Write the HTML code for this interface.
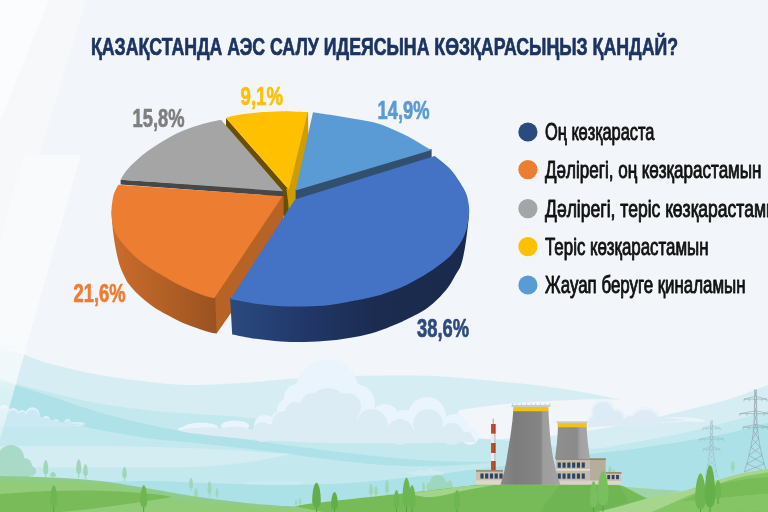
<!DOCTYPE html>
<html lang="kk"><head><meta charset="utf-8"><title>Chart</title>
<style>
html,body{margin:0;padding:0;background:#f2f5f9;}
body{width:768px;height:512px;overflow:hidden;font-family:"Liberation Sans",sans-serif;}
svg{display:block;will-change:transform;}
svg text{font-family:"Liberation Sans",sans-serif;}
</style></head><body>
<svg width="768" height="512" viewBox="0 0 768 512">
<defs>
<linearGradient id="gOr" gradientUnits="userSpaceOnUse" x1="111" y1="0" x2="217" y2="0"><stop offset="0" stop-color="#cc6c2b"/><stop offset="0.45" stop-color="#b56226"/><stop offset="1" stop-color="#9a5220"/></linearGradient>
<linearGradient id="gBl" gradientUnits="userSpaceOnUse" x1="230" y1="0" x2="470" y2="0"><stop offset="0" stop-color="#2b4a80"/><stop offset="0.3" stop-color="#22386a"/><stop offset="0.6" stop-color="#1b2c50"/><stop offset="1" stop-color="#1a2a4c"/></linearGradient>
<linearGradient id="gRay" gradientUnits="userSpaceOnUse" x1="0" y1="345" x2="0" y2="445"><stop offset="0" stop-color="#f6f9fb" stop-opacity="0.9"/><stop offset="0.35" stop-color="#ffffff" stop-opacity="0.6"/><stop offset="1" stop-color="#ffffff" stop-opacity="0.3"/></linearGradient>
<linearGradient id="gT1" gradientUnits="userSpaceOnUse" x1="500" y1="0" x2="560" y2="0"><stop offset="0" stop-color="#8a8a8a"/><stop offset="0.25" stop-color="#7c7c7c"/><stop offset="0.68" stop-color="#858585"/><stop offset="0.72" stop-color="#9d9d9d"/><stop offset="1" stop-color="#a3a3a3"/></linearGradient>
<linearGradient id="gT2" gradientUnits="userSpaceOnUse" x1="555" y1="0" x2="591" y2="0"><stop offset="0" stop-color="#8f8f8f"/><stop offset="0.6" stop-color="#8a8a8a"/><stop offset="0.7" stop-color="#a2a2a2"/><stop offset="1" stop-color="#a8a8a8"/></linearGradient>
</defs>
<rect width="768" height="512" fill="#f2f5f9"/>
<!--BG-->
<path d="M0 0L86 0L39 156L23.6 156L0 240Z" fill="#f6f8fa"/>
<path d="M23.6 155L80.7 155L0 440L0 240Z" fill="#f9fafc"/>
<path d="M0 0L49 0L0 121Z" fill="#fbfcfd"/>
<path d="M0.0 348.0C3.8 349.1 14.7 351.9 23.0 354.5C31.3 357.1 37.2 360.3 50.0 363.8C62.8 367.2 83.3 372.0 100.0 375.0C116.7 378.0 134.7 380.3 150.0 382.0C165.3 383.7 176.7 384.8 192.0 385.0C207.3 385.2 225.3 384.0 242.0 383.0C258.7 382.0 275.7 379.8 292.0 378.8C308.3 377.7 324.7 377.0 340.0 376.5C355.3 376.0 368.3 375.6 384.0 375.5C399.7 375.4 417.3 375.2 434.0 376.0C450.7 376.8 467.3 378.5 484.0 380.0C500.7 381.5 518.7 383.2 534.0 385.0C549.3 386.8 561.7 388.6 576.0 391.0C590.3 393.4 612.7 398.1 620.0 399.5C612.7 399.5 594.5 399.0 576.0 399.7C557.5 400.4 528.5 402.0 509.0 403.8C489.5 405.5 467.3 409.0 459.0 410.0C458.3 413.0 453.2 423.0 455.0 428.0C456.8 433.0 462.5 438.2 470.0 440.0C477.5 441.8 486.7 439.7 500.0 439.0C513.3 438.3 535.7 437.3 550.0 436.0C564.3 434.7 574.2 432.8 586.0 431.0C597.8 429.2 608.3 427.5 621.0 425.0C633.7 422.5 644.5 420.2 662.0 416.0C679.5 411.8 708.3 405.2 726.0 400.0C743.7 394.8 761.0 387.5 768.0 385.0L768.0 512.0L0.0 512.0Z" fill="#d6eef3"/>
<path d="M0.0 379.0C2.5 379.8 6.7 381.5 15.0 383.8C23.3 386.0 35.8 389.2 50.0 392.5C64.2 395.8 83.3 400.8 100.0 403.8C116.7 406.8 134.7 408.8 150.0 410.5C165.3 412.2 175.3 412.5 192.0 413.8C208.7 415.0 232.0 416.0 250.0 418.0C268.0 420.0 285.0 423.0 300.0 426.0C315.0 429.0 326.0 433.2 340.0 436.0C354.0 438.8 368.3 441.8 384.0 442.5C399.7 443.2 417.3 440.6 434.0 440.0C450.7 439.4 466.3 437.9 484.0 438.8C501.7 439.6 522.2 443.3 540.0 445.0C557.8 446.7 576.7 449.0 591.0 448.8C605.3 448.5 611.8 446.1 626.0 443.8C640.2 441.4 659.3 438.0 676.0 434.5C692.7 431.0 710.7 426.4 726.0 422.5C741.3 418.6 761.0 412.9 768.0 411.0L768.0 512.0L0.0 512.0Z" fill="#c3e8ee"/>
<path d="M0.0 381.0C2.5 381.7 6.7 382.5 15.0 385.0C23.3 387.5 35.8 391.4 50.0 396.0C64.2 400.6 83.3 407.7 100.0 412.5C116.7 417.3 134.7 421.7 150.0 425.0C165.3 428.3 175.3 430.0 192.0 432.5C208.7 435.0 232.0 437.6 250.0 440.0C268.0 442.4 277.7 444.2 300.0 447.0C322.3 449.8 360.7 454.7 384.0 457.0C407.3 459.3 420.7 460.2 440.0 461.0C459.3 461.8 490.0 461.8 500.0 462.0L500.0 462.0C490.0 462.7 459.3 465.5 440.0 466.0C420.7 466.5 402.3 466.1 384.0 465.0C365.7 463.9 345.3 461.2 330.0 459.5C314.7 457.8 305.3 456.2 292.0 454.5C278.7 452.8 266.7 451.0 250.0 449.0C233.3 447.0 208.7 444.2 192.0 442.5C175.3 440.8 165.3 440.6 150.0 438.5C134.7 436.4 111.3 432.1 100.0 430.0C88.7 427.9 88.7 427.3 82.0 426.0C75.3 424.7 68.7 423.8 60.0 422.0C51.3 420.2 40.0 417.8 30.0 415.0C20.0 412.2 5.0 406.7 0.0 405.0Z" fill="#afe2e8"/>
<path d="M0.0 446.0C16.7 446.0 71.7 445.8 100.0 446.0C128.3 446.2 148.3 446.8 170.0 447.5C191.7 448.2 209.7 448.9 230.0 450.0C250.3 451.1 281.7 453.3 292.0 454.0L292.0 454.0C287.0 455.0 271.8 458.3 262.0 460.0C252.2 461.7 245.0 462.8 233.0 464.0C221.0 465.2 212.2 466.4 190.0 467.0C167.8 467.6 131.7 467.4 100.0 467.5C68.3 467.6 16.7 467.5 0.0 467.5Z" fill="#d3edf2"/>
<path d="M90.0 482.0C100.0 481.8 133.0 480.9 150.0 481.0C167.0 481.1 173.7 481.9 192.0 482.5C210.3 483.1 237.0 484.2 260.0 484.5C283.0 484.8 309.3 484.8 330.0 484.0C350.7 483.2 365.7 481.7 384.0 480.0C402.3 478.3 425.7 475.7 440.0 474.0C454.3 472.3 453.3 472.0 470.0 470.0C486.7 468.0 519.8 464.7 540.0 462.0C560.2 459.3 576.7 455.8 591.0 453.8C605.3 451.8 611.8 451.9 626.0 450.0C640.2 448.1 659.3 445.2 676.0 442.5C692.7 439.8 710.7 437.1 726.0 433.8C741.3 430.4 761.0 424.4 768.0 422.5L768.0 512.0L90.0 512.0Z" fill="#ade1e8"/>
<g fill="#eaf4fc">
<circle cx="327.0" cy="392.0" r="32.0" fill="#eaf4fc"/>
<circle cx="298.0" cy="398.0" r="14.0" fill="#eaf4fc"/>
<circle cx="288.0" cy="410.0" r="11.0" fill="#eaf4fc"/>
<circle cx="280.0" cy="420.0" r="9.0" fill="#eaf4fc"/>
<circle cx="265.0" cy="426.0" r="11.0" fill="#eaf4fc"/>
<circle cx="355.0" cy="404.0" r="20.0" fill="#eaf4fc"/>
<circle cx="385.0" cy="418.0" r="14.0" fill="#eaf4fc"/>
<circle cx="427.0" cy="416.0" r="19.0" fill="#eaf4fc"/>
<circle cx="404.0" cy="424.0" r="14.0" fill="#eaf4fc"/>
<circle cx="455.0" cy="428.0" r="14.0" fill="#eaf4fc"/>
<circle cx="470.0" cy="436.0" r="9.0" fill="#eaf4fc"/>
<ellipse cx="235.0" cy="426.0" rx="14.0" ry="5.5" fill="#eaf4fc"/>
<ellipse cx="201.0" cy="427.0" rx="17.0" ry="4.2" fill="#eaf4fc"/>
<ellipse cx="188.0" cy="429.0" rx="10.0" ry="2.5" fill="#eaf4fc"/>
</g>
<g fill="#dbecf5">
<circle cx="328.0" cy="408.0" r="20.0" fill="#dbecf5"/>
<circle cx="306.0" cy="420.0" r="12.0" fill="#dbecf5"/>
<circle cx="320.0" cy="425.0" r="14.0" fill="#dbecf5"/>
<circle cx="345.0" cy="425.0" r="14.0" fill="#dbecf5"/>
<circle cx="347.0" cy="407.0" r="14.0" fill="#dbecf5"/>
<circle cx="312.0" cy="404.0" r="11.0" fill="#dbecf5"/>
<circle cx="296.0" cy="413.0" r="11.0" fill="#dbecf5"/>
<circle cx="284.0" cy="423.0" r="12.0" fill="#dbecf5"/>
<circle cx="262.0" cy="432.0" r="10.0" fill="#dbecf5"/>
<circle cx="372.0" cy="425.0" r="16.0" fill="#dbecf5"/>
<circle cx="400.0" cy="432.0" r="13.0" fill="#dbecf5"/>
<circle cx="428.0" cy="424.0" r="15.0" fill="#dbecf5"/>
<circle cx="452.0" cy="434.0" r="11.0" fill="#dbecf5"/>
<path d="M178 430Q200 426 222 428Q240 424 252 430L262 424L470 432L476 442Q400 444 330 443Q250 441 200 434Q185 433 178 430Z" fill="#dbecf5"/>
</g>
<g fill="#def0f8">
<circle cx="32.5" cy="414.5" r="7.2" fill="#def0f8"/>
<circle cx="13.0" cy="413.5" r="5.6" fill="#def0f8"/>
<circle cx="22.0" cy="415.0" r="5.0" fill="#def0f8"/>
<circle cx="46.0" cy="420.0" r="3.9" fill="#def0f8"/>
<circle cx="56.0" cy="422.0" r="2.8" fill="#def0f8"/>
<circle cx="67.5" cy="422.0" r="3.0" fill="#def0f8"/>
<ellipse cx="76.0" cy="424.0" rx="9.0" ry="2.0" fill="#def0f8"/>
<circle cx="4.0" cy="410.0" r="5.0" fill="#def0f8"/>
</g>
<g fill="#cbe9f3">
<circle cx="32.5" cy="416.0" r="6.2" fill="#cbe9f3"/>
<circle cx="13.0" cy="415.0" r="4.8" fill="#cbe9f3"/>
<circle cx="22.0" cy="417.0" r="5.0" fill="#cbe9f3"/>
<circle cx="46.0" cy="421.3" r="3.2" fill="#cbe9f3"/>
<circle cx="67.5" cy="423.0" r="2.3" fill="#cbe9f3"/>
<circle cx="4.0" cy="412.0" r="4.6" fill="#cbe9f3"/>
<path d="M0 414L40 417L60 422L84 424.3L70 426.5L0 426.5Z" fill="#cbe9f3"/>
</g>
<g>
<circle cx="603.0" cy="411.0" r="12.3" fill="#e9f3fb"/>
<circle cx="617.0" cy="416.0" r="8.0" fill="#e9f3fb"/>
<ellipse cx="645.5" cy="417.0" rx="14.0" ry="10.0" fill="#e9f3fb"/>
<circle cx="630.0" cy="420.0" r="6.0" fill="#e9f3fb"/>
<circle cx="592.0" cy="420.0" r="5.0" fill="#e9f3fb"/>
<path d="M588 424Q640 415 690 417.5Q700 418 706.5 421Q702 422.5 690 421.5Q640 423 588 428.5Z" fill="#e9f3fb"/>
<circle cx="603.0" cy="412.5" r="10.6" fill="#dcebf6"/>
<circle cx="616.5" cy="417.0" r="6.6" fill="#dcebf6"/>
<ellipse cx="645.5" cy="418.5" rx="12.2" ry="8.4" fill="#dcebf6"/>
<circle cx="630.0" cy="421.0" r="5.0" fill="#dcebf6"/>
<circle cx="593.0" cy="421.0" r="3.8" fill="#dcebf6"/>
<path d="M590 419L662 417L686 420L640 424.5L588 427Z" fill="#dcebf6"/>
</g>
<ellipse cx="274.0" cy="483.0" rx="31.0" ry="1.7" fill="#cbeaf1"/>
<ellipse cx="426.0" cy="473.0" rx="18.0" ry="2.5" fill="#cfeaf2"/>
<circle cx="430.0" cy="471.0" r="3.0" fill="#cfeaf2"/>
<circle cx="420.0" cy="472.0" r="2.5" fill="#cfeaf2"/>
<g fill="#a5d7c3">
<circle cx="11.0" cy="458.0" r="13.0" fill="#a9d9c7"/>
<circle cx="24.0" cy="466.0" r="8.0" fill="#a9d9c7"/>
<circle cx="31.0" cy="471.0" r="5.0" fill="#a9d9c7"/>
<circle cx="2.0" cy="466.0" r="8.0" fill="#a9d9c7"/>
<rect x="0" y="462" width="30" height="16" fill="#a9d9c7"/>
</g>
<g>
<rect x="45.2" y="468.6" width="1.0" height="9.4" fill="#9fd6b7"/>
<path d="M45.8 460.0C47.5 460.6 48.2 466.5 48.2 470.4C48.2 473.4 47.0 474.4 45.8 474.4C44.5 474.4 43.2 473.4 43.2 470.4C43.2 466.5 44.0 460.6 45.8 460.0Z" fill="#9fd6b7"/>
</g>
<g>
<rect x="78.2" y="468.1" width="1.0" height="9.9" fill="#9fd6b7"/>
<path d="M78.8 459.0C80.5 459.6 81.2 465.8 81.2 469.9C81.2 473.1 80.0 474.2 78.8 474.2C77.5 474.2 76.2 473.1 76.2 469.9C76.2 465.8 77.0 459.6 78.8 459.0Z" fill="#9fd6b7"/>
</g>
<g>
<rect x="85.0" y="471.2" width="1.0" height="7.8" fill="#9fd6b7"/>
<path d="M85.5 464.0C87.0 464.5 87.8 469.4 87.8 472.6C87.8 475.2 86.6 476.0 85.5 476.0C84.4 476.0 83.2 475.2 83.2 472.6C83.2 469.4 84.0 464.5 85.5 464.0Z" fill="#9fd6b7"/>
</g>
<g>
<rect x="124.0" y="473.7" width="1.0" height="7.3" fill="#9fd6b7"/>
<path d="M124.5 467.0C126.0 467.4 126.8 472.0 126.8 475.1C126.8 477.4 125.6 478.2 124.5 478.2C123.4 478.2 122.2 477.4 122.2 475.1C122.2 472.0 123.0 467.4 124.5 467.0Z" fill="#9fd6b7"/>
</g>
<g>
<rect x="190.5" y="484.2" width="1.0" height="6.8" fill="#9fd6b7"/>
<path d="M191.0 478.0C192.4 478.4 193.0 482.7 193.0 485.5C193.0 487.7 192.0 488.4 191.0 488.4C190.0 488.4 189.0 487.7 189.0 485.5C189.0 482.7 189.6 478.4 191.0 478.0Z" fill="#9fd6b7"/>
</g>
<g>
<rect x="52.5" y="474.9" width="1.0" height="3.1" fill="#9fd6b7"/>
<path d="M53.0 472.0C55.0 472.2 56.0 474.2 56.0 475.5C56.0 476.5 54.5 476.8 53.0 476.8C51.5 476.8 50.0 476.5 50.0 475.5C50.0 474.2 51.0 472.2 53.0 472.0Z" fill="#9fd6b7"/>
</g>
<g>
<rect x="195.5" y="493.8" width="1.0" height="6.2" fill="#9fd6b7"/>
<path d="M196.0 488.0C197.2 488.4 197.8 492.3 197.8 494.9C197.8 496.9 196.9 497.6 196.0 497.6C195.1 497.6 194.2 496.9 194.2 494.9C194.2 492.3 194.8 488.4 196.0 488.0Z" fill="#9fd6b7"/>
</g>
<g>
<rect x="209.0" y="488.7" width="1.0" height="8.3" fill="#9fd6b7"/>
<path d="M209.5 481.0C210.9 481.5 211.5 486.8 211.5 490.2C211.5 492.9 210.5 493.8 209.5 493.8C208.5 493.8 207.5 492.9 207.5 490.2C207.5 486.8 208.1 481.5 209.5 481.0Z" fill="#9fd6b7"/>
</g>
<g>
<rect x="216.5" y="492.8" width="1.0" height="5.2" fill="#9fd6b7"/>
<path d="M217.0 488.0C218.0 488.3 218.5 491.6 218.5 493.8C218.5 495.4 217.8 496.0 217.0 496.0C216.2 496.0 215.5 495.4 215.5 493.8C215.5 491.6 216.0 488.3 217.0 488.0Z" fill="#9fd6b7"/>
</g>
<g>
<rect x="370.5" y="490.2" width="1.0" height="6.8" fill="#9fd6b7"/>
<path d="M371.0 484.0C372.4 484.4 373.0 488.7 373.0 491.5C373.0 493.7 372.0 494.4 371.0 494.4C370.0 494.4 369.0 493.7 369.0 491.5C369.0 488.7 369.6 484.4 371.0 484.0Z" fill="#9fd6b7"/>
</g>
<g>
<rect x="375.5" y="491.3" width="1.0" height="5.7" fill="#9fd6b7"/>
<path d="M376.0 486.0C377.2 486.4 377.8 490.0 377.8 492.3C377.8 494.2 376.9 494.8 376.0 494.8C375.1 494.8 374.2 494.2 374.2 492.3C374.2 490.0 374.8 486.4 376.0 486.0Z" fill="#9fd6b7"/>
</g>
<g>
<rect x="295.5" y="502.9" width="1.0" height="3.1" fill="#9fd6b7"/>
<path d="M296.0 500.0C296.9 500.2 297.2 502.2 297.2 503.5C297.2 504.5 296.6 504.8 296.0 504.8C295.4 504.8 294.8 504.5 294.8 503.5C294.8 502.2 295.1 500.2 296.0 500.0Z" fill="#9fd6b7"/>
</g>
<g>
<rect x="299.5" y="501.8" width="1.0" height="4.2" fill="#9fd6b7"/>
<path d="M300.0 498.0C300.9 498.3 301.2 500.9 301.2 502.6C301.2 504.0 300.6 504.4 300.0 504.4C299.4 504.4 298.8 504.0 298.8 502.6C298.8 500.9 299.1 498.3 300.0 498.0Z" fill="#9fd6b7"/>
</g>
<g>
<rect x="386.5" y="487.7" width="1.0" height="8.3" fill="#9fd6b7"/>
<path d="M387.0 480.0C388.4 480.5 389.0 485.8 389.0 489.2C389.0 491.9 388.0 492.8 387.0 492.8C386.0 492.8 385.0 491.9 385.0 489.2C385.0 485.8 385.6 480.5 387.0 480.0Z" fill="#9fd6b7"/>
</g>
<g>
<rect x="423.0" y="487.3" width="1.0" height="5.7" fill="#9fd6b7"/>
<path d="M423.5 482.0C424.5 482.4 425.0 486.0 425.0 488.3C425.0 490.2 424.2 490.8 423.5 490.8C422.8 490.8 422.0 490.2 422.0 488.3C422.0 486.0 422.5 482.4 423.5 482.0Z" fill="#9fd6b7"/>
</g>
<g>
<rect x="449.5" y="485.3" width="1.0" height="5.7" fill="#9fd6b7"/>
<path d="M450.0 480.0C451.7 480.4 452.5 484.0 452.5 486.3C452.5 488.2 451.2 488.8 450.0 488.8C448.8 488.8 447.5 488.2 447.5 486.3C447.5 484.0 448.3 480.4 450.0 480.0Z" fill="#9fd6b7"/>
</g>
<g>
<rect x="732.2" y="466.8" width="1.0" height="6.2" fill="#9fd6b7"/>
<path d="M732.8 461.0C734.1 461.4 734.8 465.3 734.8 467.9C734.8 469.9 733.8 470.6 732.8 470.6C731.8 470.6 730.8 469.9 730.8 467.9C730.8 465.3 731.4 461.4 732.8 461.0Z" fill="#9fd6b7"/>
</g>
<circle cx="438.0" cy="483.0" r="8.0" fill="#9fd6c0"/>
<circle cx="446.0" cy="487.0" r="5.0" fill="#9fd6c0"/>
<circle cx="431.0" cy="487.0" r="5.0" fill="#9fd6c0"/>
<g>
<rect x="609.5" y="471.8" width="1.0" height="6.2" fill="#9fd6b7"/>
<path d="M610.0 466.0C611.4 466.4 612.0 470.3 612.0 472.9C612.0 474.9 611.0 475.6 610.0 475.6C609.0 475.6 608.0 474.9 608.0 472.9C608.0 470.3 608.6 466.4 610.0 466.0Z" fill="#9fd6b7"/>
</g>
<g>
<rect x="613.5" y="473.3" width="1.0" height="4.7" fill="#9fd6b7"/>
<path d="M614.0 469.0C615.0 469.3 615.5 472.2 615.5 474.2C615.5 475.7 614.8 476.2 614.0 476.2C613.2 476.2 612.5 475.7 612.5 474.2C612.5 472.2 613.0 469.3 614.0 469.0Z" fill="#9fd6b7"/>
</g>
<g>
<rect x="618.5" y="474.9" width="1.0" height="3.1" fill="#9fd6b7"/>
<path d="M619.0 472.0C619.9 472.2 620.2 474.2 620.2 475.5C620.2 476.5 619.6 476.8 619.0 476.8C618.4 476.8 617.8 476.5 617.8 475.5C617.8 474.2 618.1 472.2 619.0 472.0Z" fill="#9fd6b7"/>
</g>
<path d="M702.8 428.2L711.5 425.4L720.2 428.2M702.8 428.2L720.2 428.2M702.8 428.2L702.8 430.6M720.2 428.2L720.2 430.6M706.7 428.2L706.7 430.2M716.3 428.2L716.3 430.2M699.5 439.2L711.5 436.4L723.5 439.2M699.5 439.2L723.5 439.2M699.5 439.2L699.5 441.6M723.5 439.2L723.5 441.6M704.9 439.2L704.9 441.2M718.1 439.2L718.1 441.2M703.0 449.2L711.5 446.4L720.0 449.2M703.0 449.2L720.0 449.2M703.0 449.2L703.0 451.6M720.0 449.2L720.0 451.6M706.8 449.2L706.8 451.2M716.2 449.2L716.2 451.2M710.6 420.5L712.5 426.1M712.4 420.5L710.5 426.1M710.5 426.1L712.6 431.8M712.5 426.1L710.4 431.8M710.4 431.8L712.8 437.4M712.6 431.8L710.2 437.4M710.2 437.4L712.9 443.1M712.8 437.4L710.1 443.1M710.1 443.1L713.3 448.8M712.9 443.1L709.7 448.8M709.7 448.8L713.9 454.4M713.3 448.8L709.1 454.4M709.1 454.4L714.6 460.1M713.9 454.4L708.4 460.1M708.4 460.1L715.5 465.7M714.6 460.1L707.5 465.7M707.5 465.7L716.5 471.4M715.5 465.7L706.5 471.4M706.5 471.4L717.7 477.0M716.5 471.4L705.3 477.0M710.6 420.5C710.6 421.4 710.5 424.3 710.5 426.1C710.4 428.0 710.4 429.9 710.4 431.8C710.3 433.7 710.3 435.6 710.2 437.4C710.2 439.3 710.2 441.2 710.1 443.1C710.0 445.0 709.9 446.9 709.7 448.8C709.6 450.6 709.4 452.5 709.1 454.4C708.9 456.3 708.7 458.2 708.4 460.1C708.1 461.9 707.8 463.8 707.5 465.7C707.2 467.6 706.9 469.5 706.5 471.4C706.1 473.2 705.5 476.1 705.3 477.0M712.4 420.5C712.4 421.4 712.5 424.3 712.5 426.1C712.6 428.0 712.6 429.9 712.6 431.8C712.7 433.7 712.7 435.6 712.8 437.4C712.8 439.3 712.8 441.2 712.9 443.1C713.0 445.0 713.1 446.9 713.3 448.8C713.4 450.6 713.6 452.5 713.9 454.4C714.1 456.3 714.3 458.2 714.6 460.1C714.9 461.9 715.2 463.8 715.5 465.7C715.8 467.6 716.1 469.5 716.5 471.4C716.9 473.2 717.5 476.1 717.7 477.0" fill="none" stroke="#8fa9b5" stroke-width="0.60" opacity="0.55"/>
<path d="M744.0 399.2L755.5 396.4L767.0 399.2M744.0 399.2L767.0 399.2M744.0 399.2L744.0 401.6M767.0 399.2L767.0 401.6M749.2 399.2L749.2 401.2M761.8 399.2L761.8 401.2M739.8 413.7L755.5 410.9L771.2 413.7M739.8 413.7L771.2 413.7M739.8 413.7L739.8 416.1M771.2 413.7L771.2 416.1M746.8 413.7L746.8 415.7M764.2 413.7L764.2 415.7M743.0 427.2L755.5 424.4L768.0 427.2M743.0 427.2L768.0 427.2M743.0 427.2L743.0 429.6M768.0 427.2L768.0 429.6M748.6 427.2L748.6 429.2M762.4 427.2L762.4 429.2M754.6 389.5L756.5 397.8M756.4 389.5L754.5 397.8M754.5 397.8L756.6 406.0M756.5 397.8L754.4 406.0M754.4 406.0L756.8 414.2M756.6 406.0L754.2 414.2M754.2 414.2L757.0 422.5M756.8 414.2L754.0 422.5M754.0 422.5L757.6 430.8M757.0 422.5L753.4 430.8M753.4 430.8L758.7 439.0M757.6 430.8L752.3 439.0M752.3 439.0L760.2 447.2M758.7 439.0L750.8 447.2M750.8 447.2L762.1 455.5M760.2 447.2L748.9 455.5M748.9 455.5L764.2 463.8M762.1 455.5L746.8 463.8M746.8 463.8L766.7 472.0M764.2 463.8L744.3 472.0M754.6 389.5C754.6 390.9 754.5 395.0 754.5 397.8C754.4 400.5 754.4 403.2 754.4 406.0C754.3 408.8 754.3 411.5 754.2 414.2C754.2 417.0 754.2 419.8 754.0 422.5C753.9 425.2 753.6 428.0 753.4 430.8C753.1 433.5 752.7 436.2 752.3 439.0C751.8 441.8 751.3 444.5 750.8 447.2C750.2 450.0 749.6 452.8 748.9 455.5C748.3 458.2 747.6 461.0 746.8 463.8C746.0 466.5 744.7 470.6 744.3 472.0M756.4 389.5C756.4 390.9 756.5 395.0 756.5 397.8C756.6 400.5 756.6 403.2 756.6 406.0C756.7 408.8 756.7 411.5 756.8 414.2C756.8 417.0 756.8 419.8 757.0 422.5C757.1 425.2 757.4 428.0 757.6 430.8C757.9 433.5 758.3 436.2 758.7 439.0C759.2 441.8 759.7 444.5 760.2 447.2C760.8 450.0 761.4 452.8 762.1 455.5C762.7 458.2 763.4 461.0 764.2 463.8C765.0 466.5 766.3 470.6 766.7 472.0" fill="none" stroke="#8a9ba5" stroke-width="0.75" opacity="0.70"/>
<path d="M0.0 476.0C8.3 476.2 33.3 476.7 50.0 477.5C66.7 478.3 83.3 479.1 100.0 481.0C116.7 482.9 134.7 486.2 150.0 488.8C165.3 491.2 176.7 493.7 192.0 496.0C207.3 498.3 226.2 500.8 242.0 502.5C257.8 504.2 275.7 505.3 287.0 506.0C298.3 506.7 302.5 506.2 310.0 506.5C317.5 506.8 328.3 507.8 332.0 508.0L332.0 512.0L0.0 512.0Z" fill="#8fcc8c"/>
<path d="M0.0 481.0C8.3 481.1 33.3 481.0 50.0 481.5C66.7 482.0 83.3 481.7 100.0 483.8C116.7 485.8 134.7 490.9 150.0 493.8C165.3 496.6 176.7 499.0 192.0 501.0C207.3 503.0 226.2 504.8 242.0 506.0C257.8 507.2 272.3 507.8 287.0 508.5C301.7 509.2 322.8 509.8 330.0 510.0L330.0 512.0L0.0 512.0Z" fill="#93cc78"/>
<path d="M0.0 494.0C8.3 493.5 33.3 491.5 50.0 491.0C66.7 490.5 83.3 490.3 100.0 490.8C116.7 491.2 137.9 492.7 150.0 493.8C162.1 494.8 168.8 496.5 172.5 497.0L172.5 497.0C163.8 498.3 138.8 502.5 120.0 505.0C101.2 507.5 80.0 510.8 60.0 512.0C40.0 513.2 10.0 512.0 0.0 512.0Z" fill="#78bb58"/>
<path d="M600.0 484.0C606.4 484.7 625.0 486.9 638.5 488.0C652.0 489.1 673.9 490.3 681.0 490.8L681.0 490.8C677.5 491.8 668.8 495.0 660.0 497.0C651.2 499.0 638.5 502.5 628.5 503.0C618.5 503.5 604.8 500.5 600.0 500.0Z" fill="#9ed4a6"/>
<path d="M296.0 506.5C297.4 506.2 296.8 505.6 304.5 504.5C312.2 503.4 328.8 501.5 342.0 500.0C355.2 498.5 368.7 497.2 384.0 495.5C399.3 493.8 419.4 491.7 434.0 490.0C448.6 488.3 462.2 486.4 471.5 485.5C480.8 484.6 472.6 484.7 490.0 484.5C507.4 484.3 556.7 484.4 576.0 484.5C595.3 484.6 598.5 484.8 606.0 485.0C613.5 485.2 615.3 483.8 621.0 485.5C626.7 487.2 633.5 491.8 640.0 495.0C646.5 498.2 655.0 502.2 660.0 505.0C665.0 507.8 668.3 510.8 670.0 512.0L670.0 512.0L324.0 512.0Z" fill="#76bb57"/>
<path d="M408.0 493.3C412.3 492.8 427.0 491.2 434.0 490.3C441.0 489.4 443.8 488.9 450.0 488.2C456.2 487.4 464.2 486.3 471.5 485.8C478.8 485.3 490.2 485.1 494.0 485.0L494.0 485.0C490.3 485.7 478.5 487.8 472.0 489.0C465.5 490.2 460.3 491.3 455.0 492.5C449.7 493.7 445.0 495.2 440.0 496.0C435.0 496.8 430.3 497.4 425.0 497.0C419.7 496.6 410.8 493.9 408.0 493.3Z" fill="#a3d48b"/>
<path d="M560 484.6L606 485.5L621 486L628 502L600 512L540 512Z" fill="#6fb553"/>
<path d="M596.0 512.0C596.8 511.8 596.0 512.2 601.0 511.0C606.0 509.8 617.7 506.8 626.0 504.5C634.3 502.2 641.4 499.8 651.0 497.5C660.6 495.2 675.2 493.0 683.5 491.0C691.8 489.0 693.9 487.8 701.0 485.5C708.1 483.2 718.5 479.7 726.0 477.5C733.5 475.3 739.0 474.0 746.0 472.5C753.0 471.0 764.3 469.4 768.0 468.8L768.0 512.0Z" fill="#a6d58e"/>
<path d="M652.0 512.0C655.0 510.7 664.0 506.7 670.0 504.0C676.0 501.3 682.2 498.5 688.0 496.0C693.8 493.5 698.7 491.4 705.0 489.0C711.3 486.6 719.2 483.5 726.0 481.3C732.8 479.1 739.0 477.5 746.0 476.0C753.0 474.5 764.3 472.9 768.0 472.3L768.0 512.0Z" fill="#86c565"/>
<path d="M670.0 507.0C672.2 506.0 678.0 503.4 683.0 501.0C688.0 498.6 693.8 495.3 700.0 492.5C706.2 489.7 712.7 486.2 720.0 484.0C727.3 481.8 736.0 480.7 744.0 479.5C752.0 478.3 764.0 477.4 768.0 477.0L768.0 512.0Z" fill="#77bc57"/>
<path d="M670.0 507.0C672.2 506.1 677.2 502.8 683.0 501.5C688.8 500.2 697.1 500.2 705.0 499.5C712.9 498.8 720.1 498.0 730.6 497.0C741.1 496.0 761.8 494.0 768.0 493.4L768.0 512.0Z" fill="#86c565"/>
<rect x="492.8" y="418.5" width="0.7" height="6" fill="#8a8a8a"/>
<rect x="491" y="424.0" width="4.6" height="9.8" fill="#c64b2a"/>
<rect x="491" y="433.8" width="4.6" height="9.2" fill="#ececec"/>
<rect x="491" y="443.0" width="4.6" height="10.0" fill="#c64b2a"/>
<rect x="491" y="453.0" width="4.6" height="8.0" fill="#ececec"/>
<rect x="491" y="461.0" width="4.6" height="9.5" fill="#c64b2a"/>
<rect x="494.1" y="424" width="1.5" height="46.5" fill="#000" opacity="0.15"/>
<rect x="476" y="470.5" width="27" height="14" fill="#cbc2b2"/>
<rect x="476" y="470.3" width="27" height="1.2" fill="#8d6e55"/>
<rect x="480.4" y="473.5" width="3.2" height="5.1" fill="#2c4464"/>
<rect x="485.1" y="473.5" width="3.2" height="5.1" fill="#2c4464"/>
<rect x="489.9" y="473.5" width="3.2" height="5.1" fill="#2c4464"/>
<rect x="494.6" y="473.5" width="3.2" height="5.1" fill="#2c4464"/>
<rect x="499.4" y="473.5" width="3.2" height="5.1" fill="#2c4464"/>
<rect x="476" y="480.3" width="27" height="4.2" fill="#ded7ca"/>
<rect x="556" y="458.7" width="49.5" height="26" fill="#c4bbaa"/>
<rect x="590" y="458.7" width="15.5" height="26" fill="#b5ad9e"/>
<rect x="556" y="458.5" width="50" height="1.2" fill="#8d6e55"/>
<rect x="557.7" y="462.5" width="3.1" height="5.2" fill="#2c4464"/>
<rect x="562.5" y="462.5" width="3.1" height="5.2" fill="#2c4464"/>
<rect x="567.3" y="462.5" width="3.1" height="5.2" fill="#2c4464"/>
<rect x="572.1" y="462.5" width="3.1" height="5.2" fill="#2c4464"/>
<rect x="576.9" y="462.5" width="3.1" height="5.2" fill="#2c4464"/>
<rect x="581.7" y="462.5" width="3.1" height="5.2" fill="#2c4464"/>
<rect x="557.7" y="473.5" width="3.1" height="5.2" fill="#2c4464"/>
<rect x="562.5" y="473.5" width="3.1" height="5.2" fill="#2c4464"/>
<rect x="567.3" y="473.5" width="3.1" height="5.2" fill="#2c4464"/>
<rect x="572.1" y="473.5" width="3.1" height="5.2" fill="#2c4464"/>
<rect x="576.9" y="473.5" width="3.1" height="5.2" fill="#2c4464"/>
<rect x="581.7" y="473.5" width="3.1" height="5.2" fill="#2c4464"/>
<rect x="556" y="469" width="34" height="1.6" fill="#e3ddd2"/>
<rect x="556" y="480.5" width="49.5" height="4" fill="#d9d2c5"/>
<rect x="605.5" y="472.5" width="15.5" height="12" fill="#cbc2b2"/>
<rect x="605.5" y="472.3" width="16" height="1.2" fill="#8d6e55"/>
<rect x="607.3" y="475" width="2.8" height="4.2" fill="#2c4464"/>
<rect x="611.7" y="475" width="2.8" height="4.2" fill="#2c4464"/>
<rect x="616.1" y="475" width="2.8" height="4.2" fill="#2c4464"/>
<rect x="605.5" y="481" width="15.5" height="3.5" fill="#ded7ca"/>
<path d="M558 427L586.6 427C587.2 438 588.4 449 590 459L555 459C556.4 449 557.5 438 558 427Z" fill="url(#gT2)"/>
<rect x="557.6" y="423" width="29.2" height="4.2" rx="1" fill="#f3c11d"/>
<rect x="556.6" y="421.3" width="31.2" height="1.9" fill="#c9caca"/>
<path d="M513.3 410.5L548.4 410.5C549 425 550.2 440 552.3 453C554.2 465 557 476 560.4 484.7L500.4 484.7C503.6 476 506 465 507.6 453C509.8 440 512.4 425 513.3 410.5Z" fill="url(#gT1)"/>
<rect x="513.2" y="406.9" width="35.3" height="4.3" rx="1" fill="#f3c11d"/>
<rect x="511.5" y="405" width="38.8" height="2" fill="#c9caca"/>
<rect x="512.0" y="403.4" width="0.6" height="1.7" fill="#b5b5b5"/>
<rect x="516.7" y="403.4" width="0.6" height="1.7" fill="#b5b5b5"/>
<rect x="521.4" y="403.4" width="0.6" height="1.7" fill="#b5b5b5"/>
<rect x="526.1" y="403.4" width="0.6" height="1.7" fill="#b5b5b5"/>
<rect x="530.8" y="403.4" width="0.6" height="1.7" fill="#b5b5b5"/>
<rect x="535.5" y="403.4" width="0.6" height="1.7" fill="#b5b5b5"/>
<rect x="540.2" y="403.4" width="0.6" height="1.7" fill="#b5b5b5"/>
<rect x="544.9" y="403.4" width="0.6" height="1.7" fill="#b5b5b5"/>
<rect x="549.6" y="403.4" width="0.6" height="1.7" fill="#b5b5b5"/>
<g>
<rect x="53.2" y="498.4" width="1.0" height="14.6" fill="#5a9d49"/>
<path d="M53.8 485.0C56.1 485.9 57.2 495.1 57.2 501.1C57.2 505.8 55.5 507.4 53.8 507.4C52.0 507.4 50.2 505.8 50.2 501.1C50.2 495.1 51.4 485.9 53.8 485.0Z" fill="#6db652"/>
</g>
<g>
<rect x="143.2" y="498.4" width="1.0" height="14.6" fill="#5a9d49"/>
<path d="M143.8 485.0C146.1 485.9 147.2 495.1 147.2 501.1C147.2 505.8 145.5 507.4 143.8 507.4C142.0 507.4 140.2 505.8 140.2 501.1C140.2 495.1 141.4 485.9 143.8 485.0Z" fill="#6db652"/>
</g>
<g>
<rect x="316.0" y="497.6" width="1.0" height="16.4" fill="#5a9d49"/>
<path d="M316.5 482.5C319.4 483.5 320.8 493.8 320.8 500.6C320.8 505.9 318.6 507.7 316.5 507.7C314.4 507.7 312.2 505.9 312.2 500.6C312.2 493.8 313.6 483.5 316.5 482.5Z" fill="#63ae4c"/>
</g>
<g>
<rect x="334.0" y="502.6" width="1.0" height="11.4" fill="#5a9d49"/>
<path d="M334.5 492.0C336.8 492.7 337.9 499.9 337.9 504.7C337.9 508.4 336.2 509.6 334.5 509.6C332.8 509.6 331.1 508.4 331.1 504.7C331.1 499.9 332.2 492.7 334.5 492.0Z" fill="#63ae4c"/>
</g>
<g>
<rect x="411.5" y="498.9" width="1.0" height="15.1" fill="#5a9d49"/>
<path d="M412.0 485.0C414.4 485.9 415.5 495.4 415.5 501.7C415.5 506.6 413.8 508.2 412.0 508.2C410.2 508.2 408.5 506.6 408.5 501.7C408.5 495.4 409.6 485.9 412.0 485.0Z" fill="#6db652"/>
</g>
<g>
<rect x="406.0" y="495.0" width="1.0" height="19.0" fill="#5a9d49"/>
<path d="M406.5 477.5C409.2 478.7 410.5 490.6 410.5 498.5C410.5 504.7 408.5 506.7 406.5 506.7C404.5 506.7 402.5 504.7 402.5 498.5C402.5 490.6 403.8 478.7 406.5 477.5Z" fill="#6db652"/>
</g>
<g>
<rect x="396.0" y="501.5" width="1.0" height="12.5" fill="#5a9d49"/>
<path d="M396.5 490.0C398.5 490.8 399.5 498.6 399.5 503.8C399.5 507.9 398.0 509.2 396.5 509.2C395.0 509.2 393.5 507.9 393.5 503.8C393.5 498.6 394.5 490.8 396.5 490.0Z" fill="#6db652"/>
</g>
<g>
<rect x="456.5" y="501.5" width="1.0" height="12.5" fill="#5a9d49"/>
<path d="M457.0 490.0C459.0 490.8 460.0 498.6 460.0 503.8C460.0 507.9 458.5 509.2 457.0 509.2C455.5 509.2 454.0 507.9 454.0 503.8C454.0 498.6 455.0 490.8 457.0 490.0Z" fill="#6db652"/>
</g>
<g>
<rect x="593.1" y="496.8" width="1.0" height="17.2" fill="#5a9d49"/>
<path d="M593.6 481.0C596.1 482.1 597.4 492.9 597.4 500.0C597.4 505.6 595.5 507.4 593.6 507.4C591.7 507.4 589.9 505.6 589.9 500.0C589.9 492.9 591.1 482.1 593.6 481.0Z" fill="#7abf5f"/>
</g>
<g>
<rect x="602.5" y="491.6" width="1.0" height="22.4" fill="#5a9d49"/>
<path d="M603.0 471.0C606.7 472.4 608.5 486.5 608.5 495.8C608.5 503.0 605.8 505.4 603.0 505.4C600.2 505.4 597.5 503.0 597.5 495.8C597.5 486.5 599.3 472.4 603.0 471.0Z" fill="#7abf5f"/>
</g>
<g>
<rect x="717.5" y="491.5" width="1.0" height="12.5" fill="#5a9d49"/>
<path d="M718.0 480.0C720.2 480.8 721.2 488.6 721.2 493.8C721.2 497.9 719.6 499.2 718.0 499.2C716.4 499.2 714.8 497.9 714.8 493.8C714.8 488.6 715.8 480.8 718.0 480.0Z" fill="#6db652"/>
</g>
<g>
<rect x="700.0" y="494.8" width="1.0" height="23.2" fill="#5a9d49"/>
<path d="M700.5 473.3C704.1 474.7 705.8 489.4 705.8 499.0C705.8 506.6 703.1 509.1 700.5 509.1C697.9 509.1 695.2 506.6 695.2 499.0C695.2 489.4 696.9 474.7 700.5 473.3Z" fill="#6db652"/>
</g>
<g>
<rect x="709.5" y="490.4" width="1.0" height="27.6" fill="#5a9d49"/>
<path d="M710.0 465.0C713.6 466.7 715.2 484.1 715.2 495.5C715.2 504.4 712.6 507.4 710.0 507.4C707.4 507.4 704.8 504.4 704.8 495.5C704.8 484.1 706.4 466.7 710.0 465.0Z" fill="#66b04c"/>
</g>
<path d="M0 345L26.9 345L0 440Z" fill="url(#gRay)"/>
<path d="M27 340L16 356L0 400L0 340Z" fill="#f2f5f9" opacity="0.0"/>
<!--PIE-->
<path d="M226 118L288.75 189.4L289 222L226 150Z" fill="#6a4f00"/>
<path d="M305.5 112L308 112L308.3 135L296 201L289 209L286.5 189.4Z" fill="#d09d00"/>
<path d="M226.0 118.0C227.2 117.6 230.2 116.5 233.5 115.8C236.8 115.1 241.8 114.3 246.0 113.8C250.2 113.2 253.5 112.9 258.5 112.5C263.5 112.1 270.4 111.8 276.0 111.6C281.6 111.4 286.7 111.3 292.0 111.4C297.3 111.5 305.1 112.0 307.8 112.1L288.8 189.4Z" fill="#ffc000"/>
<path d="M431.6 149L431.6 158L295.6 200.2L295.6 189.6Z" fill="#31506f"/>
<path d="M313.0 112.2C315.8 112.7 324.7 113.9 330.0 114.8C335.3 115.6 340.0 116.4 345.0 117.2C350.0 118.1 354.8 118.8 360.0 119.8C365.2 120.7 371.2 121.7 376.0 123.0C380.8 124.3 384.3 125.8 388.5 127.5C392.7 129.2 396.8 131.1 401.0 133.1C405.2 135.1 409.3 137.1 413.5 139.4C417.7 141.7 423.0 145.1 426.0 146.9C429.0 148.7 430.7 149.5 431.6 150.0L295.6 190.6Z" fill="#5b9bd5"/>
<path d="M120.6 179.75L120.6 184.6L283.1 196.4L283.1 190Z" fill="#474747"/>
<path d="M120.6 179.8C121.3 178.5 123.2 175.0 125.0 172.5C126.8 170.0 129.0 167.5 131.5 165.0C134.0 162.5 136.9 159.9 140.0 157.3C143.1 154.7 145.8 152.5 150.0 149.6C154.2 146.7 160.0 142.9 165.0 140.0C170.0 137.1 174.8 134.3 180.0 132.0C185.2 129.7 191.2 127.6 196.0 126.0C200.8 124.4 204.3 123.5 208.5 122.5C212.7 121.5 218.9 120.2 221.0 119.8L283.1 191.2Z" fill="#a5a5a5"/>
<path d="M280 196.3L212.4 296.5L215.5 333L216.6 333.5L283.6 238L283.6 196.3Z" fill="#b66325"/>
<path d="M112.3 208.8C112.4 210.5 112.3 215.6 112.7 218.8C113.1 222.0 113.6 225.1 114.5 227.8C115.5 230.6 116.4 232.4 118.3 235.3C120.2 238.2 122.5 241.3 125.8 245.1C129.1 248.8 134.1 253.9 138.3 257.6C142.5 261.2 146.6 264.0 150.8 266.8C155.0 269.6 159.1 271.9 163.3 274.4C167.5 276.9 171.2 279.4 175.8 281.8C180.4 284.2 185.6 286.6 190.8 288.8C196.0 291.0 202.7 293.7 206.8 295.1C210.9 296.4 213.8 296.6 215.2 296.9L216.6 333.5C214.8 333.1 211.3 332.9 206.0 331.2C200.7 329.6 191.4 326.5 185.0 323.8C178.6 321.0 172.9 317.9 167.5 315.0C162.1 312.1 157.3 309.6 152.5 306.2C147.7 302.9 142.7 298.7 138.8 295.0C134.8 291.3 131.0 286.9 128.8 284.0C126.5 281.1 126.5 280.5 125.0 277.5C123.5 274.5 121.5 270.6 120.0 266.2C118.5 261.9 117.4 256.9 116.2 251.2C115.1 245.6 114.0 239.0 113.2 232.5C112.4 226.0 111.8 215.4 111.5 212.0Z" fill="url(#gOr)"/>
<path d="M118.5 184.8C117.8 186.0 115.6 189.5 114.6 192.0C113.6 194.5 113.1 197.0 112.6 200.0C112.1 203.0 111.6 206.7 111.5 210.0C111.4 213.3 111.5 216.8 111.9 220.0C112.3 223.2 112.8 226.2 113.8 229.0C114.7 231.8 115.6 233.6 117.5 236.5C119.4 239.4 121.7 242.5 125.0 246.2C128.3 250.0 133.3 255.1 137.5 258.8C141.7 262.4 145.8 265.2 150.0 268.0C154.2 270.8 158.3 273.1 162.5 275.6C166.7 278.1 170.4 280.6 175.0 283.0C179.6 285.4 184.8 287.8 190.0 290.0C195.2 292.2 201.9 294.9 206.0 296.2C210.1 297.6 213.0 297.8 214.4 298.1L282.5 196.2Z" fill="#ed7d31"/>
<path d="M468.6 211.7C468.3 213.7 467.7 220.2 467.0 223.7C466.3 227.2 465.8 229.3 464.5 232.4C463.2 235.6 462.0 238.7 459.5 242.4C457.0 246.2 453.2 251.2 449.5 254.9C445.8 258.7 440.2 262.4 437.0 264.9C433.8 267.4 433.2 267.9 430.0 269.9C426.8 272.0 421.7 275.1 417.5 277.4C413.3 279.8 409.2 282.3 405.0 284.3C400.8 286.3 396.7 287.7 392.5 289.3C388.3 290.9 384.2 292.5 380.0 293.7C375.8 294.9 371.8 295.8 367.5 296.7C363.2 297.6 360.8 298.1 354.5 299.3C348.2 300.5 337.8 302.7 329.5 303.7C321.2 304.7 312.7 305.0 304.5 305.2C296.3 305.4 288.7 305.4 280.5 304.9C272.3 304.5 263.9 303.7 255.5 302.4C247.1 301.2 234.3 298.5 230.1 297.7L232.2 334.4C236.2 335.1 247.9 337.6 256.0 338.8C264.1 339.9 272.8 341.0 281.0 341.5C289.2 342.0 296.8 342.1 305.0 342.0C313.2 341.9 321.7 341.4 330.0 340.6C338.3 339.8 347.3 338.4 355.0 337.0C362.7 335.6 369.0 334.2 376.0 332.0C383.0 329.8 391.8 326.0 396.8 324.0C401.7 322.0 402.0 321.7 405.5 320.0C409.0 318.3 414.2 315.8 418.0 313.8C421.8 311.7 424.7 310.0 428.0 307.5C431.3 305.0 434.7 302.1 438.0 298.8C441.3 295.4 445.1 291.5 448.0 287.5C450.9 283.5 453.3 278.8 455.5 275.0C457.7 271.2 459.4 269.6 461.0 265.0C462.6 260.4 463.8 254.2 465.0 247.5C466.2 240.8 467.3 230.8 468.0 225.0C468.7 219.2 468.9 215.0 469.1 213.0Z" fill="url(#gBl)"/>
<path d="M434.8 156.0C437.3 158.1 445.8 164.3 450.0 168.8C454.2 173.2 457.3 178.3 460.0 182.5C462.7 186.7 464.8 190.0 466.2 193.8C467.7 197.5 468.3 201.8 468.8 205.0C469.2 208.2 469.3 209.7 469.1 213.0C468.9 216.3 468.2 221.5 467.5 225.0C466.8 228.5 466.2 230.6 465.0 233.8C463.8 236.9 462.5 240.0 460.0 243.8C457.5 247.5 453.8 252.5 450.0 256.2C446.2 260.0 440.8 263.8 437.5 266.2C434.2 268.8 433.8 269.2 430.5 271.2C427.2 273.3 422.2 276.4 418.0 278.8C413.8 281.1 409.7 283.6 405.5 285.6C401.3 287.6 397.2 289.0 393.0 290.6C388.8 292.2 384.7 293.8 380.5 295.0C376.3 296.2 372.2 297.1 368.0 298.0C363.8 298.9 361.3 299.4 355.0 300.6C348.7 301.8 338.3 304.0 330.0 305.0C321.7 306.0 313.2 306.3 305.0 306.5C296.8 306.7 289.2 306.7 281.0 306.2C272.8 305.8 264.4 305.0 256.0 303.8C247.6 302.5 234.8 299.8 230.6 299.0L295.0 199.4Z" fill="#4472c4"/>
<!--TEXT-->
<text x="91.0" y="55.2" font-size="24.6" fill="#1b3463" stroke="#1b3463" stroke-width="0.70" stroke-linejoin="round" font-weight="bold" textLength="587.0" lengthAdjust="spacingAndGlyphs">ҚАЗАҚСТАНДА АЭС САЛУ ИДЕЯСЫНА КӨЗҚАРАСЫҢЫЗ ҚАНДАЙ?</text>
<text x="240.6" y="104.8" font-size="26.3" fill="#ffc000" stroke="#ffc000" stroke-width="0.70" stroke-linejoin="round" font-weight="bold" textLength="42.4" lengthAdjust="spacingAndGlyphs">9,1%</text>
<text x="132.5" y="127.3" font-size="26.3" fill="#7f7f7f" stroke="#7f7f7f" stroke-width="0.70" stroke-linejoin="round" font-weight="bold" textLength="52.0" lengthAdjust="spacingAndGlyphs">15,8%</text>
<text x="377.6" y="119.1" font-size="26.3" fill="#5b9bd5" stroke="#5b9bd5" stroke-width="0.70" stroke-linejoin="round" font-weight="bold" textLength="52.0" lengthAdjust="spacingAndGlyphs">14,9%</text>
<text x="73.6" y="301.9" font-size="26.3" fill="#ed7d31" stroke="#ed7d31" stroke-width="0.70" stroke-linejoin="round" font-weight="bold" textLength="52.0" lengthAdjust="spacingAndGlyphs">21,6%</text>
<text x="417.0" y="336.9" font-size="26.3" fill="#2b4a7d" stroke="#2b4a7d" stroke-width="0.70" stroke-linejoin="round" font-weight="bold" textLength="52.0" lengthAdjust="spacingAndGlyphs">38,6%</text>
<!--LEGEND-->
<circle cx="527.9" cy="132.0" r="9.6" fill="#2b4a7d"/>
<text x="545.0" y="140.0" font-size="23.2" fill="#111111" stroke="#111111" stroke-width="0.90" stroke-linejoin="round" font-weight="normal" textLength="109.5" lengthAdjust="spacingAndGlyphs">Оң көзқараста</text>
<circle cx="527.9" cy="169.6" r="9.6" fill="#ed7d31"/>
<text x="545.0" y="177.6" font-size="23.2" fill="#111111" stroke="#111111" stroke-width="0.90" stroke-linejoin="round" font-weight="normal" textLength="216.5" lengthAdjust="spacingAndGlyphs">Дәлірегі, оң көзқарастамын</text>
<circle cx="527.9" cy="208.6" r="9.6" fill="#a5a5a5"/>
<text x="545.0" y="216.6" font-size="23.2" fill="#111111" stroke="#111111" stroke-width="0.90" stroke-linejoin="round" font-weight="normal" textLength="243.3" lengthAdjust="spacingAndGlyphs">Дәлірегі, теріс көзқарастамын</text>
<circle cx="527.9" cy="246.6" r="9.6" fill="#ffc000"/>
<text x="545.0" y="254.6" font-size="23.2" fill="#111111" stroke="#111111" stroke-width="0.90" stroke-linejoin="round" font-weight="normal" textLength="163.5" lengthAdjust="spacingAndGlyphs">Теріс көзқарастамын</text>
<circle cx="527.9" cy="285.0" r="9.6" fill="#5b9bd5"/>
<text x="545.0" y="293.0" font-size="23.2" fill="#111111" stroke="#111111" stroke-width="0.90" stroke-linejoin="round" font-weight="normal" textLength="200.5" lengthAdjust="spacingAndGlyphs">Жауап беруге қиналамын</text>
</svg>
</body></html>
